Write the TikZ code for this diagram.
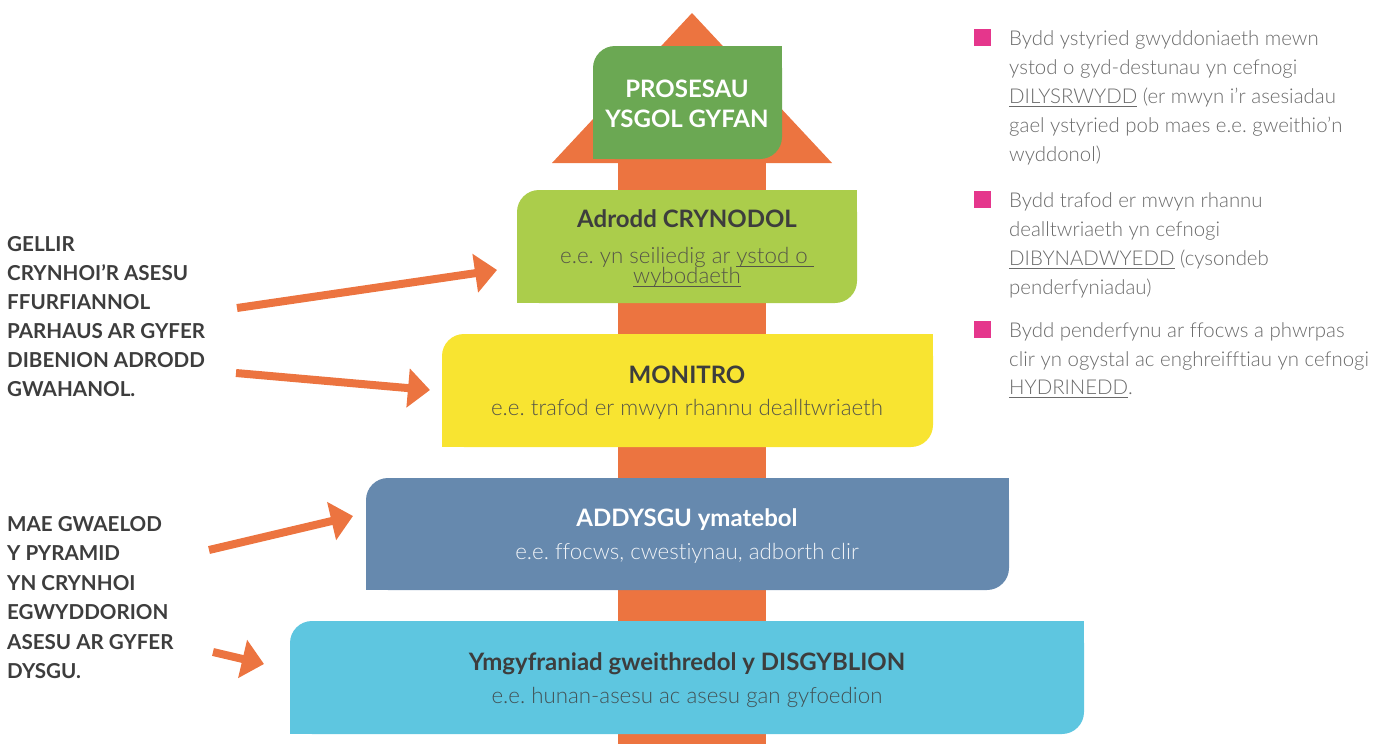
\documentclass[tikz,border=0pt]{standalone}
\usepackage{fontspec}
\setmainfont{Lato}
\newfontfamily\latolight{Lato Light}[Ligatures=NoCommon]
\usetikzlibrary{arrows.meta}
\frenchspacing
\definecolor{arrorange}{HTML}{EC7440}
\definecolor{topgreen}{HTML}{6BA853}
\definecolor{lime}{HTML}{ABCD4B}
\definecolor{yell}{HTML}{F8E431}
\definecolor{steel}{HTML}{6689AE}
\definecolor{cyanb}{HTML}{5EC6E0}
\definecolor{pinkb}{HTML}{E5368C}
\definecolor{darktxt}{HTML}{3D3D3D}
\definecolor{subtxt}{HTML}{555548}
\definecolor{righttxt}{HTML}{6A6A6A}
\newcommand\myul[1]{\setbox0=\hbox{#1}\rlap{\rule[-3.5pt]{\wd0}{0.9pt}}\box0\relax}
\tikzset{
  pbox/.style={inner sep=0pt, rounded corners=22pt, anchor=center},
  head/.style={anchor=base, inner sep=0pt, font=\fontsize{24}{28}\selectfont\bfseries},
  sub/.style={anchor=base, inner sep=0pt, font=\fontsize{22.3}{26}\selectfont\latolight},
  lefttxt/.style={anchor=base west, inner sep=0pt, text=darktxt, font=\fontsize{20.6}{24}\selectfont\bfseries},
  righttext/.style={anchor=base west, inner sep=0pt, text=righttxt, font=\fontsize{20.4}{25}\selectfont\latolight},
  bullet/.style={fill=pinkb, inner sep=0pt, minimum size=17pt},
  orarrow/.style={draw=arrorange, line width=8pt, -{Triangle[length=22pt,width=38pt]}}
}
\newcommand\sharpen[2]{%
  \fill[#2] (#1.north east) rectangle ([xshift=-24pt,yshift=-24pt]#1.north east);
  \fill[#2] (#1.south west) rectangle ([xshift=24pt,yshift=24pt]#1.south west);}
\begin{document}
\begin{tikzpicture}[x=1pt,y=-1pt]
\useasboundingbox (0,0) rectangle (1384,744);
% big arrow
\fill[arrorange] (618,163) rectangle (766,744);
\fill[arrorange] (552,163) -- (692,13) -- (832,163) -- cycle;
% boxes
\node[pbox, fill=topgreen, minimum width=189pt, minimum height=113pt] (b1) at (687.5,102.5) {};
\sharpen{b1}{topgreen}
\node[pbox, fill=lime, minimum width=340pt, minimum height=113pt] (b2) at (687,246.5) {};
\sharpen{b2}{lime}
\node[pbox, fill=yell, minimum width=491pt, minimum height=113pt] (b3) at (687.5,390.5) {};
\sharpen{b3}{yell}
\node[pbox, fill=steel, minimum width=643pt, minimum height=112pt] (b4) at (687.5,534) {};
\sharpen{b4}{steel}
\node[pbox, fill=cyanb, minimum width=794pt, minimum height=113pt] (b5) at (687,677.5) {};
\sharpen{b5}{cyanb}
% box texts
\node[head, text=white] (t1a) at (687,97) {PROSESAU};
\node[head, text=white] (t1b) at (687,127) {YSGOL GYFAN};
\node[head, text=darktxt] (t2) at (687,227.5) {Adrodd CRYNODOL};
\node[sub, text=subtxt] (s2a) at (687,263) {e.e. yn seiliedig ar \myul{ystod o\ }};
\node[sub, text=subtxt] (s2b) at (687,283) {\myul{wybodaeth}};
\node[head, text=darktxt] (t3) at (687,383) {MONITRO};
\node[sub, text=subtxt] (s3) at (687,415) {e.e. trafod er mwyn rhannu dealltwriaeth};
\node[head, text=white] (t4) at (687,526) {ADDYSGU ymatebol};
\node[sub, text=white, text opacity=0.9] (s4) at (687,559) {e.e. ffocws, cwestiynau, adborth clir};
\node[head, text=darktxt] (t5) at (687,670) {Ymgyfraniad gweithredol y DISGYBLION};
\node[sub, text=darktxt, text opacity=0.85] (s5) at (687,703) {e.e. hunan-asesu ac asesu gan gyfoedion};
% left texts
\node[lefttxt] (l1) at (7,251.7) {GELLIR};
\node[lefttxt] (l2) at (7,280.5) {CRYNHOI’R ASESU};
\node[lefttxt] (l3) at (7,309.5) {FFURFIANNOL};
\node[lefttxt] (l4) at (7,338.5) {PARHAUS AR GYFER};
\node[lefttxt] (l5) at (7,367.5) {DIBENION ADRODD};
\node[lefttxt] (l6) at (7,396.5) {GWAHANOL.};
\node[lefttxt] (m1) at (7,531) {MAE GWAELOD};
\node[lefttxt] (m2) at (7,560.5) {Y PYRAMID};
\node[lefttxt] (m3) at (7,590) {YN CRYNHOI};
\node[lefttxt] (m4) at (7,619.5) {EGWYDDORION};
\node[lefttxt] (m5) at (7,649) {ASESU AR GYFER};
\node[lefttxt] (m6) at (7,678) {DYSGU.};
% arrows
\coordinate (a1s) at (237,308); \coordinate (a1e) at (497,270);
\coordinate (a2s) at (236,373); \coordinate (a2e) at (430,390);
\coordinate (a3s) at (209,550); \coordinate (a3e) at (353,516);
\coordinate (a4s) at (213,652); \coordinate (a4e) at (264,664);
\draw[orarrow] (a1s) -- (a1e);
\draw[orarrow] (a2s) -- (a2e);
\draw[orarrow] (a3s) -- (a3e);
\draw[orarrow] (a4s) -- (a4e);
% right bullets
\node[bullet] (p1) at (982.5,37.5) {};
\node[bullet] (p2) at (982.5,199.5) {};
\node[bullet] (p3) at (982.5,329.5) {};
\node[righttext] (r11) at (1009,45) {Bydd ystyried gwyddoniaeth mewn};
\node[righttext] (r12) at (1009,74.5) {ystod o gyd-destunau yn cefnogi};
\node[righttext] (r13) at (1009,103.5) {\myul{DILYSRWYDD} (er mwyn i’r asesiadau};
\node[righttext] (r14) at (1009,132.5) {gael ystyried pob maes e.e. gweithio’n};
\node[righttext] (r15) at (1009,161.5) {wyddonol)};
\node[righttext] (r21) at (1009,207.5) {Bydd trafod er mwyn rhannu};
\node[righttext] (r22) at (1009,236.5) {dealltwriaeth yn cefnogi};
\node[righttext] (r23) at (1009,265) {\myul{DIBYNADWYEDD} (cysondeb};
\node[righttext] (r24) at (1009,294) {penderfyniadau)};
\node[righttext] (r31) at (1009,337) {Bydd penderfynu ar ffocws a phwrpas};
\node[righttext] (r32) at (1009,366) {clir yn ogystal ac enghreifftiau yn cefnogi};
\node[righttext] (r33) at (1009,394.5) {\myul{HYDRINEDD}.};
\end{tikzpicture}
\end{document}
